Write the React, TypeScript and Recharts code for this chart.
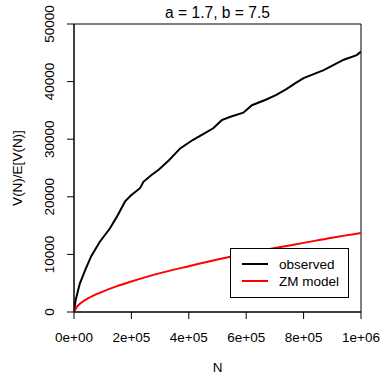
import { LineChart, Line, XAxis, YAxis, ReferenceArea } from "recharts";

// observed V(N)/E[V(N)] values along N
const observedN = [
  0, 5000, 20000, 40000, 60000, 90000, 125000, 150000, 178000, 200000, 230000, 242000, 270000,
  295000, 330000, 370000, 415000, 450000, 485000, 515000, 545000, 590000, 620000, 670000, 705000,
  740000, 770000, 800000, 835000, 870000, 905000, 940000, 985000, 1000000,
];
const observedV = [
  0, 1900, 4900, 7400, 9700, 12200, 14500, 16600, 19200, 20300, 21500, 22600, 23800,
  24700, 26300, 28400, 29900, 30900, 31900, 33300, 33900, 34600, 35900, 36900, 37700,
  38700, 39700, 40600, 41300, 42000, 42900, 43800, 44600, 45200,
];

// ZM model curve
const modelN = [0, 10000, 25000, 50000, 100000, 150000, 200000, 300000, 400000, 500000, 600000, 700000, 800000, 900000, 1000000];
const modelV = [0, 900, 1600, 2400, 3550, 4500, 5300, 6750, 7950, 9100, 10150, 11100, 12000, 12900, 13700];

const xTicks = [0, 200000, 400000, 600000, 800000, 1000000];
const xTickLabels = ["0e+00", "2e+05", "4e+05", "6e+05", "8e+05", "1e+06"];
const yTicks = [0, 10000, 20000, 30000, 40000, 50000];

const observedData = observedN.map((n, i) => ({ n, v: observedV[i] }));
const modelData = modelN.map((n, i) => ({ n, v: modelV[i] }));

const FONT = "'Liberation Sans', Arial, Helvetica, sans-serif";

const XTick = ({ x, y, payload }: any) => {
  const idx = xTicks.indexOf(payload.value);
  return (
    <text x={x} y={y + 16} textAnchor="middle" dominantBaseline="central" fontSize={13.5} fill="#000" fontFamily={FONT}>
      {xTickLabels[idx]}
    </text>
  );
};

const YTick = ({ x, y, payload }: any) => (
  <text
    x={0}
    y={0}
    transform={`translate(${x - 16},${y}) rotate(-90)`}
    textAnchor="middle"
    dominantBaseline="central"
    fontSize={13.5}
    fill="#000"
    fontFamily={FONT}
  >
    {payload.value}
  </text>
);

export default function App() {
  return (
    <div style={{ position: "absolute", left: 0, top: 0, width: 381, height: 375, background: "#fff", fontFamily: FONT }}>
      <div style={{ position: "absolute", left: 74, width: 287, top: 3, textAlign: "center", fontSize: 15.6, color: "#000", lineHeight: "20px" }}>
        a = 1.7, b = 7.5
      </div>
      <LineChart width={381} height={375} margin={{ top: 24, right: 20, left: 0, bottom: 0 }}>
        <XAxis
          dataKey="n"
          type="number"
          domain={[0, 1000000]}
          ticks={xTicks}
          interval={0}
          tick={<XTick />}
          tickSize={7}
          height={63}
          stroke="#000"
          allowDataOverflow
          label={{ value: "N", position: "insideBottom", offset: 3, fontSize: 13.5, fill: "#000", fontFamily: FONT }}
        />
        <YAxis
          type="number"
          domain={[0, 50000]}
          ticks={yTicks}
          interval={0}
          tick={<YTick />}
          tickSize={7}
          width={74}
          stroke="#000"
          allowDataOverflow
          label={{ value: "V(N)/E[V(N)]", angle: -90, position: "insideLeft", offset: 17, fontSize: 13.5, fill: "#000", fontFamily: FONT, style: { textAnchor: "middle" } }}
        />
        <ReferenceArea x1={0} x2={1000000} y1={0} y2={50000} fill="none" fillOpacity={0} stroke="#000" strokeWidth={1} />
        <Line data={observedData} dataKey="v" type="linear" stroke="#000" strokeWidth={2} dot={false} isAnimationActive={false} name="observed" />
        <Line data={modelData} dataKey="v" type="monotone" stroke="#ff0000" strokeWidth={2} dot={false} isAnimationActive={false} name="ZM model" />
      </LineChart>
      <svg width={120} height={51} style={{ position: "absolute", left: 230, top: 248 }}>
        <rect x={0.5} y={0.5} width={118} height={49} fill="#fff" stroke="#000" />
        <line x1={12} x2={38} y1={16} y2={16} stroke="#000" strokeWidth={2} />
        <line x1={12} x2={38} y1={33} y2={33} stroke="#ff0000" strokeWidth={2} />
        <text x={49} y={16} dominantBaseline="central" fontSize={13.5} fontFamily={FONT} fill="#000">observed</text>
        <text x={49} y={33} dominantBaseline="central" fontSize={13.5} fontFamily={FONT} fill="#000">ZM model</text>
      </svg>
    </div>
  );
}
